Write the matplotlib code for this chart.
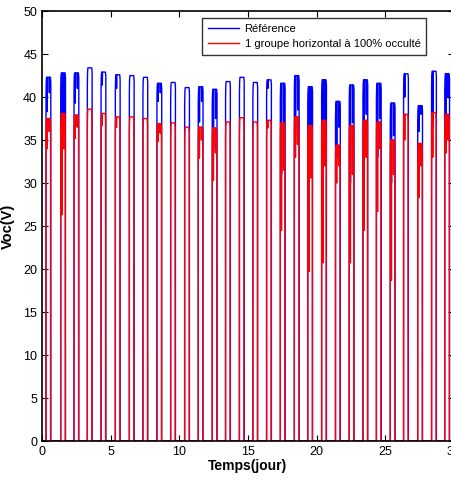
"""
Voc over 30 days: reference vs one horizontal group 100% shaded
"""
import numpy as np
import matplotlib
matplotlib.use("Agg")
from matplotlib import pyplot as plt

plt.rcParams['font.family'] = ['Liberation Sans Narrow', 'Liberation Sans', 'DejaVu Sans']

# daily values (one entry per day, day n starts near n + 0.33)
day_start = [0.29, 1.36, 2.33, 3.30, 4.30, 5.34, 6.36, 7.35, 8.37, 9.37,
             10.39, 11.38, 12.40, 13.37, 14.38, 15.36, 16.36, 17.36, 18.38, 19.36,
             20.37, 21.38, 22.38, 23.38, 24.36, 25.37, 26.34, 27.37, 28.38, 29.34]
day_len = 0.33

ref_peak = [42.3, 42.8, 42.8, 43.4, 42.9, 42.6, 42.5, 42.3, 41.6, 41.7,
            41.1, 41.2, 40.9, 41.8, 42.3, 41.7, 42.0, 41.6, 42.5, 41.2,
            42.0, 39.5, 41.4, 42.0, 41.6, 39.3, 42.7, 39.0, 43.0, 42.7]
ref_dip1 = [38.3, 29.4, 39.3, 43.4, 41.4, 41.0, 42.5, 42.3, 39.5, 41.7,
            41.1, 37.1, 34.0, 41.8, 42.3, 41.7, 41.0, 31.0, 35.6, 26.0,
            33.0, 33.0, 30.0, 33.0, 33.0, 30.0, 40.0, 36.0, 36.5, 35.6]
ref_dip2 = [40.5, 38.0, 41.0, 43.4, 42.9, 42.6, 42.5, 42.3, 40.5, 41.7,
            41.1, 39.5, 37.5, 41.8, 42.3, 41.7, 42.0, 36.0, 38.5, 36.5,
            37.0, 36.5, 37.0, 38.0, 37.5, 35.5, 42.7, 38.0, 43.0, 39.9]

occ_peak = [37.5, 38.1, 37.9, 38.6, 38.1, 37.7, 37.7, 37.5, 36.9, 37.0,
            36.5, 36.5, 36.4, 37.1, 37.6, 37.1, 37.3, 37.0, 37.7, 36.7,
            37.3, 34.4, 36.7, 37.3, 37.1, 35.0, 38.0, 34.6, 38.2, 38.0]
occ_dip1 = [34.0, 26.3, 35.2, 38.6, 36.7, 36.5, 37.7, 37.5, 34.8, 37.0,
            36.5, 32.9, 30.3, 37.1, 37.6, 37.1, 36.4, 24.5, 33.0, 19.7,
            20.7, 30.0, 20.7, 24.5, 26.7, 18.7, 35.0, 28.3, 33.0, 33.5]
occ_dip2 = [36.0, 34.0, 36.5, 38.6, 38.1, 37.7, 37.7, 37.5, 35.8, 37.0,
            36.5, 35.0, 33.5, 37.1, 37.6, 37.1, 37.3, 31.5, 34.5, 30.6,
            32.0, 32.0, 31.0, 33.0, 34.0, 31.0, 38.0, 32.0, 38.2, 35.0]

# relative shape of one day: time offsets (fraction of day_len) and which level is used
shape_t = [0.0, 0.003, 0.05, 0.12, 0.22, 0.26, 0.30, 0.55, 0.66, 0.70,
           0.74, 0.92, 0.997, 1.0]
shape_k = ['z', 'r', 'q', 'p', 'p', 'a', 'p', 'p', 'p', 'b',
           'p', 'p', 'e', 'z']


def day_curve(start, peak, dip1, dip2, lag):
    t, v = [], []
    for s, k in zip(shape_t, shape_k):
        level = {'z': 0.0, 'r': peak - 2.0, 'q': peak - 0.5, 'p': peak,
                 'a': dip1, 'b': dip2, 'e': peak - 0.6}[k]
        t.append(start + s * (day_len + lag))
        v.append(level)
    return t, v


ref_t, ref_v = [0.0], [0.0]
occ_t, occ_v = [0.0], [0.0]
for i in range(len(day_start)):
    t, v = day_curve(day_start[i], ref_peak[i], ref_dip1[i], ref_dip2[i], 0.02)
    ref_t += t
    ref_v += v
    t, v = day_curve(day_start[i], occ_peak[i], occ_dip1[i], occ_dip2[i], 0.0)
    occ_t += t
    occ_v += v
ref_t.append(30.0)
ref_v.append(0.0)
occ_t.append(30.0)
occ_v.append(0.0)

fig = plt.figure(figsize=(4.52, 4.82), dpi=100)
ax = fig.add_axes([0.093, 0.085, 0.911, 0.892])
ax.plot(ref_t, ref_v, color='#0000ff', lw=1.0, label='Référence')
ax.plot(occ_t, occ_v, color='#ff0000', lw=1.0, label='1 groupe horizontal à 100% occulté')

ax.set_xlim(0, 30)
ax.set_ylim(0, 50)
ax.set_xticks(np.arange(0, 31, 5))
ax.set_yticks(np.arange(0, 51, 5))
ax.tick_params(direction='in', top=True, right=True, labelsize=9, length=4)
for sp in ax.spines.values():
    sp.set_linewidth(1.2)
ax.set_xlabel('Temps(jour)', fontsize=10, fontweight='bold', labelpad=1)
ax.set_ylabel('Voc(V)', fontsize=10.5, fontweight='bold', labelpad=6)

leg = ax.legend(loc='upper right', bbox_to_anchor=(0.9425, 0.9627),
                bbox_transform=fig.transFigure, fontsize=8, frameon=True,
                fancybox=False, edgecolor='black', handlelength=2.8,
                handletextpad=0.5, borderpad=0.5, borderaxespad=0.0,
                labelspacing=0.5)
leg.get_frame().set_linewidth(1.0)

fig.savefig('out.png', dpi=100)
